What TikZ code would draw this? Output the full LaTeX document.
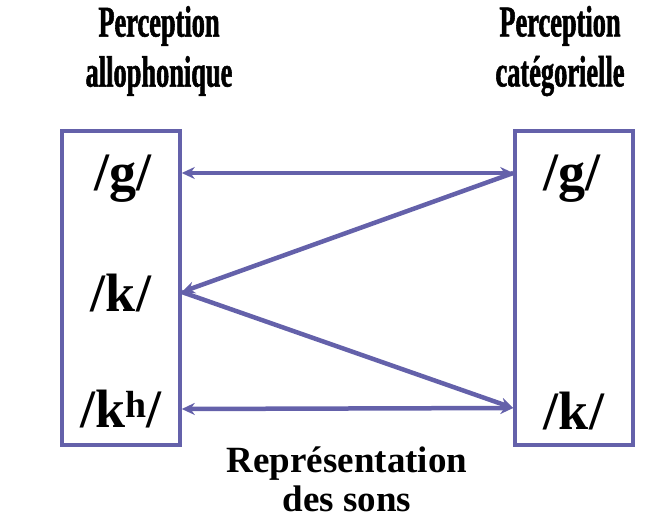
\documentclass[tikz,border=0pt]{standalone}
\usepackage{fontspec}
\setmainfont{Liberation Serif}
\newfontfamily\condfont{Liberation Serif Bold}[FakeStretch=0.6, FakeBold=1.2]
\usetikzlibrary{arrows.meta, positioning}
\definecolor{boxblue}{RGB}{100,97,170}

\begin{document}
\begin{tikzpicture}[
            x=1pt, y=-1pt,
            >={Stealth[length=13pt,width=12pt]},
            title/.style={font=\condfont\fontsize{44}{50}\selectfont, align=center},
            caption/.style={font=\bfseries\fontsize{37}{39}\selectfont, align=center},
            phon/.style={font=\bfseries\fontsize{54}{54}\selectfont, anchor=base},
            column/.style={draw=boxblue, line width=3.5pt},
            link/.style={draw=boxblue, line width=4.5pt}
        ]
        \useasboundingbox (0,0) rectangle (659,519);

        % Columns
        \node[column, minimum width=118pt, minimum height=314pt] (allo) at (121,288) {};
        \node[column, minimum width=118pt, minimum height=314pt] (categ) at (574,288) {};

        % Titles
        \node[title] (alloT) at (159,51) {Perception\\allophonique};
        \node[title] (categT) at (560,51) {Perception\\catégorielle};
        \node[caption] (repr) at (347,479) {Représentation\\des sons};

        % Sounds
        \node[phon] (gL) at (123,190) {/g/};
        \node[phon] (kL) at (121,311) {/k/};
        \node[phon] (khL) at (121,427) {/k\textsuperscript{h}/};
        \node[phon] (gR) at (572,190) {/g/};
        \node[phon] (kR) at (574,429) {/k/};

        % Connectors
        \coordinate (gLe) at (allo.east |- 0,173);
        \coordinate (kLe) at (allo.east |- 0,292);
        \coordinate (khLe) at (allo.east |- 0,409);
        \coordinate (gRw) at (categ.west |- 0,173);
        \coordinate (kRw) at (categ.west |- 0,408);
        \draw[link, <->] (gLe) -- (gRw);
        \draw[link, ->] (gRw) -- (kLe);
        \draw[link, ->] (kLe) -- (kRw);
        \draw[link, <->] (khLe) -- (kRw);
\end{tikzpicture}
\end{document}
